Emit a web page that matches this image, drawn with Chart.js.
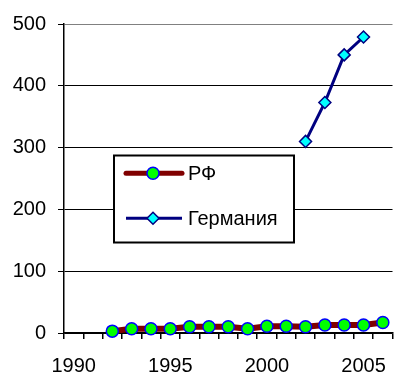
<!DOCTYPE html>
<html>
<head>
<meta charset="utf-8">
<script src="https://cdn.jsdelivr.net/npm/chart.js@4"></script>
<style>
html,body{margin:0;padding:0;background:#fff;overflow:hidden;}
#wrap{width:400px;height:376px;position:relative;}
</style>
</head>
<body>
<div id="wrap"><canvas id="c"></canvas></div>
<script>
const years = [1990,1991,1992,1993,1994,1995,1996,1997,1998,1999,2000,2001,2002,2003,2004,2005,2006];
const rfValues = [null,null,3,7,7,7,10,10,10,7,11,11,10,13,13,13,17];
const deValues = [null,null,null,null,null,null,null,null,null,null,null,null,310,373,450,479,null];
const seriesNames = ['РФ','Германия'];
const yTicks = [0,100,200,300,400,500];

const FONT = {family:'"Liberation Sans", Arial, sans-serif', size:20};

const legendPlugin = {
  id:'boxLegend',
  afterDraw(chart){
    const ctx = chart.ctx;
    ctx.save();
    const x0=114, y0=155.5, w=180, h=87;
    ctx.fillStyle='#fff';
    ctx.fillRect(x0,y0,w,h);
    ctx.strokeStyle='#000';
    ctx.lineWidth=2;
    ctx.strokeRect(x0,y0,w,h);
    const items = chart.data.datasets;
    const rows=[173.3,218.3];
    items.forEach((ds,i)=>{
      const y=rows[i];
      ctx.strokeStyle=ds.borderColor;
      ctx.lineWidth = i===0?5:3;
      ctx.lineCap = i===0?'round':'butt';
      ctx.beginPath(); ctx.moveTo(126,y); ctx.lineTo(182,y); ctx.stroke();
      ctx.fillStyle=ds.pointBackgroundColor; ctx.strokeStyle=ds.pointBorderColor; ctx.lineWidth=ds.pointBorderWidth;
      ctx.beginPath();
      if(ds.pointStyle==='circle'){ctx.arc(153,y,ds.pointRadius,0,Math.PI*2);}
      else{const r=ds.pointRadius;ctx.moveTo(153-r,y);ctx.lineTo(153,y-r);ctx.lineTo(153+r,y);ctx.lineTo(153,y+r);ctx.closePath();}
      ctx.fill(); ctx.stroke();
      ctx.fillStyle='#000';
      ctx.font = FONT.size+'px '+FONT.family;
      ctx.textBaseline='middle';
      ctx.textAlign='left';
      ctx.fillText(ds.label,188,y+1);
    });
    ctx.restore();
  }
};

new Chart(document.getElementById('c'),{
  type:'line',
  data:{
    labels: years.map(String),
    datasets:[
      {label:seriesNames[0],data:rfValues,borderColor:'#800000',borderWidth:6,
       pointStyle:'circle',pointRadius:6,pointBackgroundColor:'#00ff00',pointBorderColor:'#0000ff',pointBorderWidth:1.5,
       clip:false,tension:0,spanGaps:false},
      {label:seriesNames[1],data:deValues,borderColor:'#000080',borderWidth:3,
       pointStyle:'rectRot',pointRadius:6,pointBackgroundColor:'#00ffff',pointBorderColor:'#000080',pointBorderWidth:1.5,
       clip:false,tension:0,spanGaps:false}
    ]
  },
  options:{
    responsive:true,maintainAspectRatio:false,animation:false,
    layout:{padding:{top:21,right:0,left:0,bottom:0}},
    plugins:{legend:{display:false},tooltip:{enabled:false}},
    scales:{
      x:{
        type:'category',offset:true,
        grid:{offset:true,drawOnChartArea:false,drawTicks:true,tickLength:6,color:'#000',tickColor:'#000',lineWidth:1.5},
        border:{display:true,color:'#000',width:1.5},
        ticks:{autoSkip:false,maxRotation:0,minRotation:0,color:'#000',font:FONT,padding:15,
          callback:function(v,i){const y=years[i];return y%5===0?String(y):'';}},
        afterFit(s){s.height=43;}
      },
      y:{
        min:0,max:500,
        grid:{color:(c)=>c.tick&&c.tick.value===500?'#808080':'#000',tickColor:'#000',tickLength:6,lineWidth:1},
        border:{display:true,color:'#000',width:1.5},
        ticks:{stepSize:100,color:'#000',font:FONT,padding:12,
          callback:function(v){return yTicks.includes(v)?String(v):'';}},
        afterFit(s){s.width=64;}
      }
    }
  },
  plugins:[legendPlugin]
});
</script>
</body>
</html>
